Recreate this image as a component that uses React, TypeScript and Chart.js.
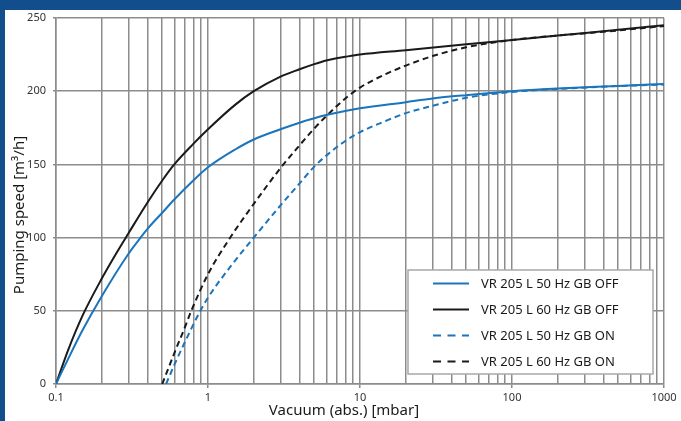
import React, { useEffect, useRef } from "react";
import { Chart, registerables } from "chart.js";

Chart.register(...registerables);

// ---- Data ----
const seriesLabels = [
  "VR 205 L 50 Hz GB OFF",
  "VR 205 L 60 Hz GB OFF",
  "VR 205 L 50 Hz GB ON",
  "VR 205 L 60 Hz GB ON",
];

const pressure50Off = [0.1, 0.12, 0.15, 0.2, 0.3, 0.36, 0.4, 0.5, 0.6, 0.8, 1, 1.5, 2, 3, 4, 5, 6, 8, 10, 20, 30, 50, 100, 200, 500, 1000];
const speed50Off = [0, 17, 37, 60, 89, 100, 106, 117, 126, 139, 148, 160, 167, 174, 178.5, 181.5, 183.7, 186.5, 188.3, 192.5, 195, 197.3, 200, 201.8, 203.6, 205];

const pressure60Off = [0.1, 0.12, 0.15, 0.2, 0.25, 0.3, 0.4, 0.5, 0.6, 0.8, 1, 1.5, 2, 3, 4, 5, 6, 7, 8, 10, 20, 50, 100, 200, 500, 1000];
const speed60Off = [0, 23, 47, 72, 89.5, 103, 124, 139, 150, 164, 174, 190.5, 200, 210, 215, 218.5, 221, 222.5, 223.5, 225, 228, 232, 235, 238, 242, 245];

const pressure50On = [0.53, 0.6, 0.7, 0.88, 1, 1.5, 2, 3, 4, 5, 6, 8, 10, 15, 20, 30, 50, 100, 200, 500, 1000];
const speed50On = [0, 13, 28, 49, 59, 84, 100, 122, 137, 148.5, 156, 166, 172, 180, 185, 190, 195.5, 199.5, 201.5, 203.5, 204.5];

const pressure60On = [0.5, 0.6, 0.7, 0.78, 1, 1.38, 2, 3, 4, 5, 6, 8, 10, 15, 20, 30, 50, 100, 200, 500, 1000];
const speed60On = [0, 21, 38, 50.5, 75, 99, 123, 147.5, 163, 174.5, 183, 195, 202.5, 212, 217.5, 224, 230, 235, 238, 241.5, 244.5];

const xTickValues = [
  0.1, 0.2, 0.3, 0.4, 0.5, 0.6, 0.7, 0.8, 0.9,
  1, 2, 3, 4, 5, 6, 7, 8, 9,
  10, 20, 30, 40, 50, 60, 70, 80, 90,
  100, 200, 300, 400, 500, 600, 700, 800, 900,
  1000,
];
const xMajorLabels: Record<string, string> = { "0.1": "0.1", "1": "1", "10": "10", "100": "100", "1000": "1000" };

const yMin = 0;
const yMax = 250;
const yStep = 50;

const xTitle = "Vacuum (abs.) [mbar]";
const yTitle = "Pumping speed [m³/h]";

const BLUE = "#1b75bc";
const BLACK = "#1a1a1a";
const GRID = "#8c8c8c";
const FRAME = "#134e8c";
const FONT = "'Noto Sans', 'Open Sans', sans-serif";

const toPoints = (xs: number[], ys: number[]) => xs.map((x, i) => ({ x, y: ys[i] }));

const isMajor = (v: number) => Object.prototype.hasOwnProperty.call(xMajorLabels, String(v));

const decorPlugin = {
  id: "decor",
  beforeDraw(chart: any) {
    const { ctx, width, height } = chart;
    ctx.save();
    ctx.fillStyle = "#ffffff";
    ctx.fillRect(0, 0, width, height);
    ctx.fillStyle = FRAME;
    ctx.fillRect(0, 0, width, 10);
    ctx.fillRect(0, 0, 5, height);
    ctx.restore();
  },
  afterDraw(chart: any) {
    const { ctx, chartArea } = chart;
    ctx.save();
    // axis titles
    ctx.fillStyle = "#1a1a1a";
    ctx.font = `15px ${FONT}`;
    ctx.textAlign = "center";
    ctx.textBaseline = "middle";
    ctx.fillText(xTitle, chartArea.left + 288, chartArea.bottom + 27);
    ctx.save();
    ctx.translate(20, chartArea.top + 197);
    ctx.rotate(-Math.PI / 2);
    ctx.fillText(yTitle, 0, 0);
    ctx.restore();

    // legend box
    const bw = 245;
    const bh = 104;
    const bx = chartArea.right - 11 - bw;
    const by = chartArea.bottom - 10 - bh;
    ctx.fillStyle = "#ffffff";
    ctx.fillRect(bx, by, bw, bh);
    ctx.strokeStyle = "#a8a8a8";
    ctx.lineWidth = 1.5;
    ctx.strokeRect(bx, by, bw, bh);

    const datasets = chart.data.datasets;
    ctx.font = `13px ${FONT}`;
    ctx.textAlign = "left";
    ctx.textBaseline = "middle";
    datasets.forEach((ds: any, i: number) => {
      const y = by + 13.5 + i * 26;
      ctx.beginPath();
      ctx.strokeStyle = ds.borderColor;
      ctx.lineWidth = 2;
      ctx.setLineDash(ds.borderDash && ds.borderDash.length ? [8, 6.5] : []);
      ctx.moveTo(bx + 25, y);
      ctx.lineTo(bx + 61, y);
      ctx.stroke();
      ctx.setLineDash([]);
      ctx.fillStyle = "#1a1a1a";
      ctx.fillText(ds.label, bx + 73, y + 0.5);
    });
    ctx.restore();
  },
};

export default function App() {
  const canvasRef = useRef<HTMLCanvasElement | null>(null);

  useEffect(() => {
    document.body.style.margin = "0";
    const canvas = canvasRef.current;
    if (!canvas) return;

    const mk = (label: string, xs: number[], ys: number[], color: string, dashed: boolean) => ({
      label,
      data: toPoints(xs, ys),
      borderColor: color,
      backgroundColor: color,
      borderWidth: 2,
      borderDash: dashed ? [6, 4] : [],
      pointRadius: 0,
      pointHoverRadius: 0,
      fill: false,
      cubicInterpolationMode: "monotone" as const,
    });

    const chart = new Chart(canvas, {
      type: "line",
      data: {
        datasets: [
          mk(seriesLabels[0], pressure50Off, speed50Off, BLUE, false),
          mk(seriesLabels[1], pressure60Off, speed60Off, BLACK, false),
          mk(seriesLabels[2], pressure50On, speed50On, BLUE, true),
          mk(seriesLabels[3], pressure60On, speed60On, BLACK, true),
        ],
      },
      options: {
        responsive: false,
        animation: false,
        devicePixelRatio: 1,
        layout: { padding: { left: 0, top: 18, right: 17, bottom: 0 } },
        plugins: {
          legend: { display: false },
          tooltip: { enabled: false },
        },
        scales: {
          x: {
            type: "logarithmic",
            min: 0.1,
            max: 1000,
            afterBuildTicks: (scale: any) => {
              scale.ticks = xTickValues.map((v) => ({ value: v, major: isMajor(v) }));
            },
            afterFit: (scale: any) => {
              scale.height = 37;
            },
            ticks: {
              autoSkip: false,
              maxRotation: 0,
              minRotation: 0,
              padding: 3,
              color: "#333333",
              font: { family: FONT, size: 11 },
              callback: (value: any) => {
                const key = String(value);
                return xMajorLabels[key] !== undefined ? xMajorLabels[key] : "";
              },
            },
            grid: {
              color: GRID,
              lineWidth: 1.5,
              tickLength: 4,
              tickColor: (ctx: any) => (ctx.tick && isMajor(ctx.tick.value) ? GRID : "rgba(0,0,0,0)"),
            },
            border: { display: true, color: GRID, width: 1.5 },
          },
          y: {
            type: "linear",
            min: yMin,
            max: yMax,
            afterFit: (scale: any) => {
              scale.width = 56;
            },
            ticks: {
              stepSize: yStep,
              padding: 7,
              color: "#333333",
              font: { family: FONT, size: 11 },
            },
            grid: {
              color: GRID,
              lineWidth: 1.5,
              tickLength: 3,
            },
            border: { display: true, color: GRID, width: 1.5 },
          },
        },
      },
      plugins: [decorPlugin],
    });

    return () => {
      chart.destroy();
    };
  }, []);

  return (
    <div style={{ width: 681, height: 421, position: "relative" }}>
      <canvas ref={canvasRef} width={681} height={421} style={{ display: "block", width: 681, height: 421 }} />
    </div>
  );
}
